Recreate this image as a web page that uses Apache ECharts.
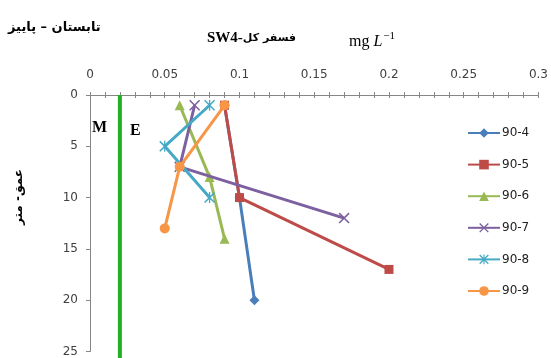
<!DOCTYPE html>
<html>
<head>
<meta charset="utf-8">
<script src="https://cdn.jsdelivr.net/npm/echarts@6/dist/echarts.min.js"></script>
<style>
  html, body { margin: 0; padding: 0; background: #fff; }
  #chart { width: 551px; height: 358px; }
</style>
</head>
<body>
<div id="chart"></div>
<script>
// Total phosphorus profiles at station SW4 (summer – autumn), mg/L versus depth
const seriesNames = ['90-4', '90-5', '90-6', '90-7', '90-8', '90-9'];

const conc904 = [0.09, 0.10, 0.11];
const depth904 = [1, 10, 20];
const conc905 = [0.09, 0.10, 0.20];
const depth905 = [1, 10, 17];
const conc906 = [0.06, 0.08, 0.09];
const depth906 = [1, 8, 14];
const conc907 = [0.07, 0.06, 0.17];
const depth907 = [1, 7, 12];
const conc908 = [0.08, 0.05, 0.08];
const depth908 = [1, 5, 10];
const conc909 = [0.09, 0.06, 0.05];
const depth909 = [1, 7, 13];

// Mixed layer / euphotic boundary line
const boundaryConc = [0.02, 0.02];
const boundaryDepth = [0, 26];

const xTicks = [0, 0.05, 0.1, 0.15, 0.2, 0.25, 0.3];
const depthTicks = [0, 5, 10, 15, 20, 25];

const colors = ['#4a7ebb', '#be4b48', '#98b954', '#7d60a0', '#46aac5', '#f79646'];

const xMarkPath = 'path://M0,1 L1,0 L10,9 L9,10 Z M9,0 L10,1 L1,10 L0,9 Z';
const starPath = 'path://M0,1 L1,0 L10,9 L9,10 Z M9,0 L10,1 L1,10 L0,9 Z M4.4,0 L5.6,0 L5.6,10 L4.4,10 Z';
const symbols = ['diamond', 'rect', 'triangle', xMarkPath, starPath, 'circle'];
const symbolSizes = [10, 9, 10, 11, 11, 10];

const concs = [conc904, conc905, conc906, conc907, conc908, conc909];
const depths = [depth904, depth905, depth906, depth907, depth908, depth909];

const pairs = (xs, ys) => xs.map((x, i) => [x, ys[i]]);

const lineSeries = seriesNames.map((name, k) => ({
  name,
  type: 'line',
  xAxisIndex: 0,
  data: pairs(concs[k], depths[k]),
  symbol: symbols[k],
  symbolSize: symbolSizes[k],
  showAllSymbol: true,
  lineStyle: { color: colors[k], width: 3 },
  itemStyle: { color: colors[k] },
  emphasis: { disabled: true },
  z: 3 + k
}));

const boundarySeries = {
  name: 'boundary',
  type: 'line',
  xAxisIndex: 0,
  data: pairs(boundaryConc, boundaryDepth),
  symbol: 'none',
  clip: false,
  lineStyle: { color: '#22b022', width: 4 },
  silent: true,
  z: 2
};

const fmtX = v => {
  const hundredths = Math.round(v * 100);
  if (hundredths % 5 !== 0) return '';
  return String(+v.toFixed(2));
};

const chart = echarts.init(document.getElementById('chart'), null, { renderer: 'canvas' });

const labelFont = { color: '#404040', fontFamily: 'DejaVu Sans', fontSize: 12 };

chart.setOption({
  animation: false,
  backgroundColor: '#ffffff',
  grid: { left: 90, right: 11, top: 95, bottom: 6.5, containLabel: false },
  xAxis: [
    {
      type: 'value',
      position: 'top',
      min: xTicks[0],
      max: xTicks[xTicks.length - 1],
      interval: 0.01,
      axisLine: { show: true, lineStyle: { color: '#868686', width: 1 } },
      axisTick: { show: true, length: 3, inside: false, lineStyle: { color: '#868686' } },
      axisLabel: Object.assign({ formatter: fmtX, interval: 0, margin: 14, hideOverlap: false }, labelFont),
      splitLine: { show: false }
    },
    {
      type: 'value',
      position: 'top',
      min: xTicks[0],
      max: xTicks[xTicks.length - 1],
      interval: 0.01,
      axisLine: { show: false },
      axisTick: { show: true, length: 3, inside: true, lineStyle: { color: '#868686' } },
      axisLabel: { show: false },
      splitLine: { show: false }
    }
  ],
  yAxis: {
    type: 'value',
    inverse: true,
    min: depthTicks[0],
    max: depthTicks[depthTicks.length - 1],
    interval: 5,
    axisLine: { show: true, lineStyle: { color: '#868686', width: 1 } },
    axisTick: { show: true, length: 4, inside: false, lineStyle: { color: '#868686' } },
    axisLabel: Object.assign({ margin: 12 }, labelFont),
    splitLine: { show: false }
  },
  legend: {
    data: seriesNames,
    orient: 'vertical',
    left: 467,
    top: 127,
    padding: 0,
    itemWidth: 32,
    itemHeight: 12,
    itemGap: 19.6,
    textStyle: { color: '#222', fontFamily: 'DejaVu Sans', fontSize: 12, padding: [0, 0, 0, -3] },
    selectedMode: false
  },
  series: [boundarySeries].concat(lineSeries),
  graphic: [
    {
      type: 'text',
      left: 8,
      top: 21,
      style: { text: 'تابستان – پاییز', font: 'bold 13px "DejaVu Sans"', fill: '#000' }
    },
    {
      type: 'text',
      left: 207,
      top: 31,
      style: {
        text: '{s|SW4-}{f|فسفر کل}',
        rich: {
          s: { font: 'bold 15px "Liberation Serif"', fill: '#000', verticalAlign: 'middle' },
          f: { font: 'bold 11px "DejaVu Sans"', fill: '#000', verticalAlign: 'middle' }
        }
      }
    },
    {
      type: 'text',
      left: 349,
      top: 31,
      style: {
        text: '{a|mg }{b|L}{c|−1}',
        rich: {
          a: { font: '16px "Liberation Serif"', fill: '#000', verticalAlign: 'bottom' },
          b: { font: 'italic 16px "Liberation Serif"', fill: '#000', verticalAlign: 'bottom' },
          c: { font: '11px "Liberation Serif"', fill: '#000', verticalAlign: 'top', padding: [0, 0, 8, 1] }
        }
      }
    },
    {
      type: 'text',
      x: 19,
      y: 197,
      rotation: Math.PI / 2,
      style: { text: 'عمق- متر', font: 'bold 12px "DejaVu Sans"', fill: '#000', align: 'center', verticalAlign: 'middle' }
    },
    {
      type: 'text',
      left: 92,
      top: 120,
      style: { text: 'M', font: 'bold 16px "Liberation Serif"', fill: '#000' }
    },
    {
      type: 'text',
      left: 130,
      top: 123,
      style: { text: 'E', font: 'bold 16px "Liberation Serif"', fill: '#000' }
    }
  ]
});
</script>
</body>
</html>
